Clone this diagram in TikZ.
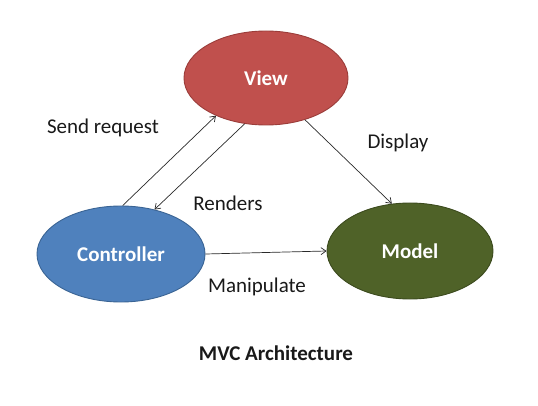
\documentclass[tikz,border=0pt]{standalone}
\usepackage{fontspec}
\setmainfont{Carlito}
\usetikzlibrary{shapes.geometric,arrows.meta}
\definecolor{viewred}{HTML}{C0504D}
\definecolor{viewedge}{HTML}{9B3D3A}
\definecolor{ctrlblue}{HTML}{4F81BD}
\definecolor{ctrledge}{HTML}{3A6494}
\definecolor{modelgreen}{HTML}{4F6228}
\definecolor{modeledge}{HTML}{3C4B1E}
\definecolor{linegray}{HTML}{2A2A2A}
\tikzset{
  blob/.style={ellipse, inner sep=0pt, line width=0.9pt, text=white,
    font=\fontsize{21}{25}\selectfont\bfseries},
  conn/.style={draw=linegray, line width=0.7pt, -{Straight Barb[length=5pt,width=7pt]}},
  lbl/.style={font=\fontsize{21}{25}\selectfont, text=black!90, inner sep=0pt}
}
\begin{document}
\begin{tikzpicture}[x=1pt,y=-1pt]
\useasboundingbox (0,0) rectangle (538,406);
\node[blob, fill=viewred, draw=viewedge, minimum width=164pt, minimum height=94pt] (view) at (266,78) {View};
\node[blob, fill=ctrlblue, draw=ctrledge, minimum width=168pt, minimum height=96pt] (ctrl) at (121,254) {Controller};
\node[blob, fill=modelgreen, draw=modeledge, minimum width=166pt, minimum height=96pt] (model) at (410,251) {Model};
\draw[conn] (ctrl.88) -- (view.217);
\draw[conn] (view.245) -- (ctrl.53);
\draw[conn] (view.313) -- (model.111);
\draw[conn] (ctrl.east) -- (model.west);
\node[lbl] (lsend) at (103,128) {Send request};
\node[lbl] (lrend) at (228,203) {Renders};
\node[lbl] (ldisp) at (398,143) {Display};
\node[lbl] (lmanip) at (257,287) {Manipulate};
\node[lbl, font=\fontsize{21}{25}\selectfont\bfseries] (title) at (276,353) {MVC Architecture};
\end{tikzpicture}
\end{document}
